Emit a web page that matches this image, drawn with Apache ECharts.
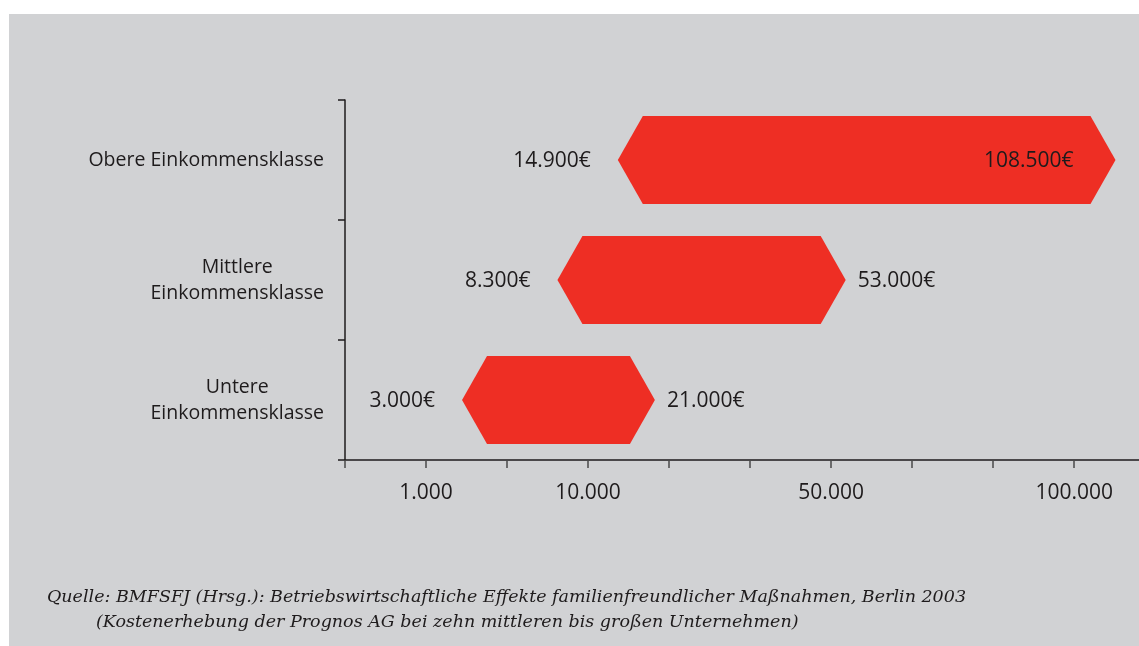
<!DOCTYPE html>
<html>
<head>
<meta charset="utf-8">
<script src="https://cdn.jsdelivr.net/npm/echarts@6/dist/echarts.min.js"></script>
<style>
  html, body { margin: 0; padding: 0; background: #ffffff; }
  #chart { position: absolute; left: 9px; top: 14px; width: 1130px; height: 632px; }
</style>
</head>
<body>
<div id="chart"></div>
<script>
// Income classes, top to bottom
const categories = ['Obere Einkommensklasse', 'Mittlere\nEinkommensklasse', 'Untere\nEinkommensklasse'];
// Cost range per class (EUR)
const costFrom = [14900, 8300, 3000];
const costTo = [108500, 53000, 21000];
// Stretched cost axis: labelled values and the tick step each one sits on
const scaleValues = [0, 1000, 10000, 50000, 100000];
const scaleSteps = [0, 1, 3, 6, 9];
const tickSteps = [0, 1, 2, 3, 4, 5, 6, 7, 8, 9];
const sourceLines = [
  'Quelle: BMFSFJ (Hrsg.): Betriebswirtschaftliche Effekte familienfreundlicher Maßnahmen, Berlin 2003',
  '(Kostenerhebung der Prognos AG bei zehn mittleren bis großen Unternehmen)'
];

const SANS = '"Open Sans", "Noto Sans", sans-serif';
const SERIF = '"DejaVu Serif", serif';
const INK = '#1e1b1c';

// piecewise-linear value -> step mapping (extrapolates past the last stop)
function toStep(v) {
  const n = scaleValues.length;
  for (let i = 1; i < n; i++) {
    if (v <= scaleValues[i] || i === n - 1) {
      const t = (v - scaleValues[i - 1]) / (scaleValues[i] - scaleValues[i - 1]);
      return scaleSteps[i - 1] + t * (scaleSteps[i] - scaleSteps[i - 1]);
    }
  }
}
function fmt(v) {
  return String(Math.round(v)).replace(/\B(?=(\d{3})+(?!\d))/g, '.');
}

const rows = categories.map((c, i) => [i, toStep(costFrom[i]), toStep(costTo[i]), costFrom[i], costTo[i]]);

const chart = echarts.init(document.getElementById('chart'));

chart.setOption({
  backgroundColor: '#d1d2d4',
  animation: false,
  grid: { left: 336, right: 0, top: 86, bottom: 186 },
  xAxis: {
    type: 'value',
    min: 0,
    max: 9.8,
    interval: 1,
    splitLine: { show: false },
    axisLine: { show: true, lineStyle: { color: INK, width: 1.5 } },
    axisTick: { show: true, customValues: tickSteps, length: 8, lineStyle: { color: '#4a4a4a', width: 1.5 } },
    axisLabel: {
      customValues: scaleSteps.slice(1),
      margin: 23,
      color: INK,
      fontFamily: SANS,
      fontSize: 21,
      formatter: function (step) {
        const k = scaleSteps.indexOf(step);
        return (k > 0) ? fmt(scaleValues[k]) : '';
      }
    }
  },
  yAxis: {
    type: 'category',
    inverse: true,
    data: categories,
    axisLine: { show: true, lineStyle: { color: INK, width: 1.5 } },
    axisTick: { show: true, length: 7, lineStyle: { color: INK, width: 1.5 } },
    axisLabel: {
      margin: 21,
      align: 'right',
      formatter: function (v) {
        return v.split('\n').map(l => '{c|' + l + '}').join('\n');
      },
      rich: {
        c: { align: 'center', color: INK, fontFamily: SANS, fontSize: 19.5, lineHeight: 26 }
      }
    }
  },
  series: [{
    type: 'custom',
    data: rows,
    encode: { x: [1, 2], y: 0 },
    renderItem: function (params, api) {
      const ci = api.value(0);
      const a = api.coord([api.value(1), ci]);
      const b = api.coord([api.value(2), ci]);
      const h = api.size([0, 1])[1] * 0.735;
      const tip = 25;
      const y = a[1];
      const cs = params.coordSys;
      const right = cs.x + cs.width;
      const highInside = b[0] + 90 > right;
      const font = { fontFamily: SANS, fontSize: 21, fill: INK };
      return {
        type: 'group',
        children: [
          {
            type: 'polygon',
            shape: {
              points: [
                [a[0], y], [a[0] + tip, y - h / 2], [b[0] - tip, y - h / 2],
                [b[0], y], [b[0] - tip, y + h / 2], [a[0] + tip, y + h / 2]
              ]
            },
            style: { fill: '#ee2e24' }
          },
          {
            type: 'text',
            x: a[0] - 27, y: y + 1,
            style: Object.assign({ text: fmt(api.value(3)) + '€', align: 'right', verticalAlign: 'middle' }, font)
          },
          {
            type: 'text',
            x: highInside ? b[0] - 42 : b[0] + 12, y: y + 1,
            style: Object.assign({ text: fmt(api.value(4)) + '€', align: highInside ? 'right' : 'left', verticalAlign: 'middle' }, font)
          }
        ]
      };
    }
  }],
  graphic: sourceLines.map((line, i) => ({
    type: 'text',
    left: i === 0 ? 38 : 87,
    top: 574 + i * 25,
    style: { text: line, fill: INK, font: 'italic 17.5px ' + SERIF }
  }))
});
</script>
</body>
</html>
